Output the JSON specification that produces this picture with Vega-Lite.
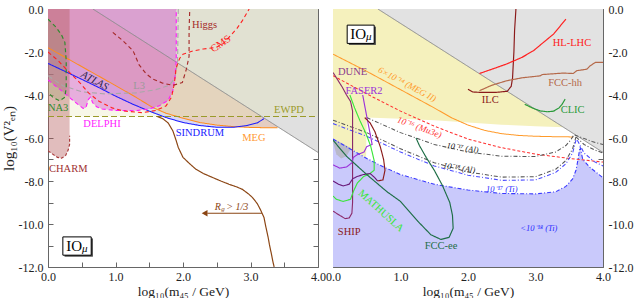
{
"$schema":"https://vega.github.io/schema/vega-lite/v6.json",
"padding":{"left":0,"top":2,"right":1,"bottom":0},
"config":{"font":"Liberation Serif","view":{"stroke":"#666666","strokeWidth":1},
"axis":{"labelFont":"Liberation Serif","labelFontSize":12,"labelColor":"#222222","titleFont":"Liberation Serif","titleFontSize":15,"titleFontWeight":"normal","titleColor":"#222222","domain":false,"tickColor":"#666666","tickSize":-5,"grid":false,"labelFlush":false,"labelOverlap":false},
"axisX":{"labelPadding":9,"titlePadding":2,"titleFontSize":13.5},
"axisY":{"labelPadding":10,"titlePadding":2},
"text":{"font":"Liberation Serif","baseline":"middle","align":"center"}},
"datasets":{
"Llines":[
{"s":"diag","x":0.665,"y":0},{"s":"diag","x":4,"y":-6.67},
{"s":"MEG","x":0,"y":-1.8},{"s":"MEG","x":0.5,"y":-2.68},{"s":"MEG","x":1.0,"y":-3.56},{"s":"MEG","x":1.3,"y":-4.1},{"s":"MEG","x":1.55,"y":-4.58},{"s":"MEG","x":1.75,"y":-4.85},{"s":"MEG","x":2.0,"y":-5.08},{"s":"MEG","x":2.25,"y":-5.28},{"s":"MEG","x":2.5,"y":-5.4},{"s":"MEG","x":2.75,"y":-5.47},{"s":"MEG","x":3.0,"y":-5.51},{"s":"MEG","x":3.2,"y":-5.52},{"s":"MEG","x":3.4,"y":-5.52},
{"s":"SINDRUM","x":0,"y":-2.53},{"s":"SINDRUM","x":0.25,"y":-2.9},{"s":"SINDRUM","x":0.5,"y":-3.27},{"s":"SINDRUM","x":0.75,"y":-3.65},{"s":"SINDRUM","x":1.0,"y":-4.05},{"s":"SINDRUM","x":1.25,"y":-4.42},{"s":"SINDRUM","x":1.5,"y":-4.75},{"s":"SINDRUM","x":1.75,"y":-5.05},{"s":"SINDRUM","x":2.0,"y":-5.28},{"s":"SINDRUM","x":2.25,"y":-5.42},{"s":"SINDRUM","x":2.5,"y":-5.5},{"s":"SINDRUM","x":2.75,"y":-5.5},{"s":"SINDRUM","x":2.95,"y":-5.42},{"s":"SINDRUM","x":3.1,"y":-5.3},{"s":"SINDRUM","x":3.2,"y":-5.1},
{"s":"EWPD","x":0,"y":-5},{"s":"EWPD","x":4,"y":-5},
{"s":"L3","x":0,"y":-3.1},{"s":"L3","x":0.22,"y":-3.57},{"s":"L3","x":0.5,"y":-3.85},{"s":"L3","x":0.85,"y":-3.95},{"s":"L3","x":1.3,"y":-3.9},{"s":"L3","x":1.6,"y":-3.75},{"s":"L3","x":1.8,"y":-3.55},{"s":"L3","x":1.88,"y":-3.2},{"s":"L3","x":1.92,"y":-2.5},{"s":"L3","x":1.93,"y":0},
{"s":"DELPHI","x":0,"y":-3.3},{"s":"DELPHI","x":0.1,"y":-3.55},{"s":"DELPHI","x":0.22,"y":-3.85},{"s":"DELPHI","x":0.35,"y":-4.2},{"s":"DELPHI","x":0.45,"y":-4.45},{"s":"DELPHI","x":0.52,"y":-4.62},{"s":"DELPHI","x":0.56,"y":-4.6},{"s":"DELPHI","x":0.6,"y":-4.2},{"s":"DELPHI","x":0.63,"y":-4.1},{"s":"DELPHI","x":0.66,"y":-4.35},{"s":"DELPHI","x":0.72,"y":-4.55},{"s":"DELPHI","x":0.8,"y":-4.65},{"s":"DELPHI","x":1.0,"y":-4.72},{"s":"DELPHI","x":1.3,"y":-4.73},{"s":"DELPHI","x":1.5,"y":-4.65},{"s":"DELPHI","x":1.65,"y":-4.5},{"s":"DELPHI","x":1.78,"y":-4.25},{"s":"DELPHI","x":1.85,"y":-3.8},{"s":"DELPHI","x":1.88,"y":-3.2},{"s":"DELPHI","x":1.9,"y":-2.4},{"s":"DELPHI","x":1.9,"y":0},
{"s":"CMS","x":0,"y":-2.0},{"s":"CMS","x":0.15,"y":-2.4},{"s":"CMS","x":0.27,"y":-2.8},{"s":"CMS","x":0.47,"y":-3.42},{"s":"CMS","x":0.6,"y":-3.9},{"s":"CMS","x":0.76,"y":-4.3},{"s":"CMS","x":0.95,"y":-4.6},{"s":"CMS","x":1.11,"y":-4.74},{"s":"CMS","x":1.4,"y":-4.82},{"s":"CMS","x":1.6,"y":-4.72},{"s":"CMS","x":1.75,"y":-4.5},{"s":"CMS","x":1.83,"y":-4.1},{"s":"CMS","x":1.87,"y":-3.5},{"s":"CMS","x":1.9,"y":-2.72},{"s":"CMS","x":1.95,"y":-2.3},{"s":"CMS","x":2.0,"y":-2.1},{"s":"CMS","x":2.15,"y":-1.95},{"s":"CMS","x":2.3,"y":-1.86},{"s":"CMS","x":2.49,"y":-1.79},{"s":"CMS","x":2.6,"y":-1.6},{"s":"CMS","x":2.68,"y":-1.32},{"s":"CMS","x":2.8,"y":-0.9},{"s":"CMS","x":2.88,"y":-0.54},{"s":"CMS","x":2.98,"y":0},
{"s":"Higgs","x":0.96,"y":-1.09},{"s":"Higgs","x":1.1,"y":-1.45},{"s":"Higgs","x":1.26,"y":-1.94},{"s":"Higgs","x":1.35,"y":-2.6},{"s":"Higgs","x":1.45,"y":-3.0},{"s":"Higgs","x":1.55,"y":-3.25},{"s":"Higgs","x":1.7,"y":-3.45},{"s":"Higgs","x":1.85,"y":-3.55},{"s":"Higgs","x":1.99,"y":-3.42},{"s":"Higgs","x":2.05,"y":-2.8},{"s":"Higgs","x":2.09,"y":-2.2},{"s":"Higgs","x":2.09,"y":-1.0},{"s":"Higgs","x":2.1,"y":0},
{"s":"CHARM","x":0,"y":-6.6},{"s":"CHARM","x":0.07,"y":-6.75},{"s":"CHARM","x":0.14,"y":-6.9},{"s":"CHARM","x":0.2,"y":-6.94},{"s":"CHARM","x":0.26,"y":-6.82},{"s":"CHARM","x":0.3,"y":-6.55},{"s":"CHARM","x":0.32,"y":-6.3},{"s":"CHARM","x":0.32,"y":-5.9},
{"s":"NA3","x":0,"y":-0.47},{"s":"NA3","x":0.12,"y":-0.85},{"s":"NA3","x":0.2,"y":-1.2},{"s":"NA3","x":0.25,"y":-1.55},{"s":"NA3","x":0.27,"y":-2.4},{"s":"NA3","x":0.27,"y":-3.65},{"s":"NA3","x":0.25,"y":-4.1},{"s":"NA3","x":0.17,"y":-4.27},{"s":"NA3","x":0.07,"y":-4.1},{"s":"NA3","x":0,"y":-3.88},
{"s":"Rg","x":1.62,"y":-5.0},{"s":"Rg","x":1.7,"y":-5.1},{"s":"Rg","x":1.78,"y":-5.3},{"s":"Rg","x":1.85,"y":-5.67},{"s":"Rg","x":1.9,"y":-6.13},{"s":"Rg","x":1.93,"y":-6.44},{"s":"Rg","x":2.0,"y":-6.9},{"s":"Rg","x":2.1,"y":-7.2},{"s":"Rg","x":2.19,"y":-7.45},{"s":"Rg","x":2.3,"y":-7.65},{"s":"Rg","x":2.44,"y":-7.84},{"s":"Rg","x":2.56,"y":-8.0},{"s":"Rg","x":2.68,"y":-8.15},{"s":"Rg","x":2.8,"y":-8.28},{"s":"Rg","x":2.88,"y":-8.39},{"s":"Rg","x":2.97,"y":-8.6},{"s":"Rg","x":3.03,"y":-8.77},{"s":"Rg","x":3.1,"y":-9.05},{"s":"Rg","x":3.15,"y":-9.35},{"s":"Rg","x":3.2,"y":-9.7},{"s":"Rg","x":3.23,"y":-10.17},{"s":"Rg","x":3.26,"y":-10.6},{"s":"Rg","x":3.28,"y":-10.95},{"s":"Rg","x":3.31,"y":-11.4},{"s":"Rg","x":3.33,"y":-11.72},{"s":"Rg","x":3.35,"y":-12},
{"s":"arrow","x":3.17,"y":-9.5},{"s":"arrow","x":2.36,"y":-9.5}
],
"LNA3":[{"x":0,"lo":-3.88,"hi":-0.47},{"x":0.07,"lo":-4.1,"hi":-0.7},{"x":0.12,"lo":-4.2,"hi":-0.85},{"x":0.17,"lo":-4.27,"hi":-1.05},{"x":0.2,"lo":-4.25,"hi":-1.2},{"x":0.25,"lo":-4.1,"hi":-1.55},{"x":0.27,"lo":-3.65,"hi":-2.4}],
"Ltext":[{"t":"Higgs","x":2.32,"y":-0.73},{"t":"L3","x":1.35,"y":-3.57},{"t":"NA3","x":0.15,"y":-4.61},{"t":"DELPHI","x":0.8,"y":-5.33},{"t":"SINDRUM","x":2.25,"y":-5.78},{"t":"MEG","x":3.05,"y":-5.98},{"t":"EWPD","x":3.57,"y":-4.7},{"t":"CHARM","x":0.3,"y":-7.45}],
"Rlines":[
{"s":"diag","x":0.665,"y":0},{"s":"diag","x":4,"y":-6.67},
{"s":"MEGII","x":0,"y":-2.1},{"s":"MEGII","x":0.5,"y":-2.9},{"s":"MEGII","x":1.0,"y":-3.75},{"s":"MEGII","x":1.5,"y":-4.6},{"s":"MEGII","x":1.75,"y":-5.05},{"s":"MEGII","x":2.0,"y":-5.4},{"s":"MEGII","x":2.25,"y":-5.65},{"s":"MEGII","x":2.5,"y":-5.8},{"s":"MEGII","x":2.75,"y":-5.88},{"s":"MEGII","x":3.0,"y":-5.92},{"s":"MEGII","x":3.3,"y":-5.94},{"s":"MEGII","x":3.56,"y":-5.95},
{"s":"Mu3e","x":0,"y":-3.1},{"s":"Mu3e","x":0.5,"y":-3.95},{"s":"Mu3e","x":1.0,"y":-4.75},{"s":"Mu3e","x":1.5,"y":-5.45},{"s":"Mu3e","x":2.0,"y":-6.05},{"s":"Mu3e","x":2.5,"y":-6.45},{"s":"Mu3e","x":3.0,"y":-6.75},{"s":"Mu3e","x":3.5,"y":-6.95},{"s":"Mu3e","x":4.0,"y":-7.12},
{"s":"Al17","x":0.5,"y":-5.05},{"s":"Al17","x":0.75,"y":-5.4},{"s":"Al17","x":1.0,"y":-5.75},{"s":"Al17","x":1.5,"y":-6.3},{"s":"Al17","x":2.0,"y":-6.65},{"s":"Al17","x":2.5,"y":-6.85},{"s":"Al17","x":3.0,"y":-6.86},{"s":"Al17","x":3.3,"y":-6.65},{"s":"Al17","x":3.45,"y":-6.35},{"s":"Al17","x":3.52,"y":-6.1},{"s":"Al17","x":3.56,"y":-5.9},
{"s":"Al17r","x":3.58,"y":-5.86},{"s":"Al17r","x":3.7,"y":-6.0},{"s":"Al17r","x":3.85,"y":-6.18},{"s":"Al17r","x":4,"y":-6.3},
{"s":"Al18","x":0,"y":-5.17},{"s":"Al18","x":0.5,"y":-5.75},{"s":"Al18","x":1.0,"y":-6.5},{"s":"Al18","x":1.5,"y":-7.15},{"s":"Al18","x":2.0,"y":-7.58},{"s":"Al18","x":2.5,"y":-7.82},{"s":"Al18","x":3.0,"y":-7.8},{"s":"Al18","x":3.3,"y":-7.45},{"s":"Al18","x":3.45,"y":-7.05},{"s":"Al18","x":3.55,"y":-6.5},{"s":"Al18","x":3.6,"y":-5.95},
{"s":"Al18r","x":3.6,"y":-5.95},{"s":"Al18r","x":3.72,"y":-6.3},{"s":"Al18r","x":3.87,"y":-6.55},{"s":"Al18r","x":4,"y":-6.7},
{"s":"TiA","x":0,"y":-5.33},{"s":"TiA","x":0.5,"y":-5.92},{"s":"TiA","x":1.0,"y":-6.65},{"s":"TiA","x":1.5,"y":-7.3},{"s":"TiA","x":2.0,"y":-7.73},{"s":"TiA","x":2.5,"y":-7.97},{"s":"TiA","x":3.0,"y":-7.95},{"s":"TiA","x":3.3,"y":-7.6},{"s":"TiA","x":3.45,"y":-7.2},{"s":"TiA","x":3.55,"y":-6.7},{"s":"TiA","x":3.6,"y":-6.1},
{"s":"TiAr","x":3.62,"y":-6.1},{"s":"TiAr","x":3.72,"y":-6.7},{"s":"TiAr","x":3.87,"y":-7.1},{"s":"TiAr","x":4,"y":-7.3},
{"s":"Ti17","x":0,"y":-6.05},{"s":"Ti17","x":0.25,"y":-6.5},{"s":"Ti17","x":0.5,"y":-6.95},{"s":"Ti17","x":0.75,"y":-7.35},{"s":"Ti17","x":1.0,"y":-7.7},{"s":"Ti17","x":1.5,"y":-8.15},{"s":"Ti17","x":2.0,"y":-8.42},{"s":"Ti17","x":2.5,"y":-8.58},{"s":"Ti17","x":3.0,"y":-8.6},{"s":"Ti17","x":3.3,"y":-8.5},{"s":"Ti17","x":3.45,"y":-8.25},{"s":"Ti17","x":3.55,"y":-7.9},{"s":"Ti17","x":3.6,"y":-7.5},{"s":"Ti17","x":3.63,"y":-7.0},{"s":"Ti17","x":3.66,"y":-6.4},{"s":"Ti17","x":3.7,"y":-7.0},{"s":"Ti17","x":3.8,"y":-7.35},{"s":"Ti17","x":3.9,"y":-7.6},{"s":"Ti17","x":4,"y":-7.85},
{"s":"DUNE","x":0,"y":-2.95},{"s":"DUNE","x":0.07,"y":-3.3},{"s":"DUNE","x":0.14,"y":-3.65},{"s":"DUNE","x":0.2,"y":-4.0},{"s":"DUNE","x":0.26,"y":-4.3},{"s":"DUNE","x":0.29,"y":-4.74},{"s":"DUNE","x":0.29,"y":-6.0},{"s":"DUNE","x":0.29,"y":-7.5},{"s":"DUNE","x":0.29,"y":-9.0},{"s":"DUNE","x":0.28,"y":-9.5},{"s":"DUNE","x":0.24,"y":-9.72},{"s":"DUNE","x":0.18,"y":-9.75},{"s":"DUNE","x":0.1,"y":-9.6},{"s":"DUNE","x":0,"y":-9.4},
{"s":"FASER2","x":0.44,"y":-4.0},{"s":"FASER2","x":0.5,"y":-5.0},{"s":"FASER2","x":0.55,"y":-5.8},{"s":"FASER2","x":0.58,"y":-6.3},{"s":"FASER2","x":0.5,"y":-6.4},{"s":"FASER2","x":0.46,"y":-6.65},{"s":"FASER2","x":0.36,"y":-6.78},{"s":"FASER2","x":0.3,"y":-6.9},{"s":"FASER2","x":0.28,"y":-7.15},{"s":"FASER2","x":0.2,"y":-7.35},{"s":"FASER2","x":0.1,"y":-7.4},{"s":"FASER2","x":0,"y":-7.25},
{"s":"MATHUSLA","x":0.25,"y":-4.0},{"s":"MATHUSLA","x":0.32,"y":-4.6},{"s":"MATHUSLA","x":0.4,"y":-5.2},{"s":"MATHUSLA","x":0.49,"y":-5.8},{"s":"MATHUSLA","x":0.56,"y":-6.4},{"s":"MATHUSLA","x":0.61,"y":-7.05},{"s":"MATHUSLA","x":0.61,"y":-7.5},{"s":"MATHUSLA","x":0.55,"y":-7.65},{"s":"MATHUSLA","x":0.45,"y":-7.8},{"s":"MATHUSLA","x":0.36,"y":-8.1},{"s":"MATHUSLA","x":0.3,"y":-8.5},{"s":"MATHUSLA","x":0.26,"y":-8.85},{"s":"MATHUSLA","x":0.15,"y":-8.95},{"s":"MATHUSLA","x":0.05,"y":-8.85},{"s":"MATHUSLA","x":0,"y":-8.7},
{"s":"dp","x":0,"y":-8.0},{"s":"dp","x":0.08,"y":-8.15},{"s":"dp","x":0.15,"y":-8.23},{"s":"dp","x":0.24,"y":-8.15},{"s":"dp","x":0.29,"y":-7.9},{"s":"dp","x":0.35,"y":-7.8},{"s":"dp","x":0.45,"y":-7.7},{"s":"dp","x":0.55,"y":-7.65},{"s":"dp","x":0.62,"y":-7.85},{"s":"dp","x":0.66,"y":-8.0},
{"s":"dr","x":0.66,"y":-8.0},{"s":"dr","x":0.74,"y":-7.95},{"s":"dr","x":0.77,"y":-7.5},{"s":"dr","x":0.75,"y":-7.0},{"s":"dr","x":0.7,"y":-6.4},{"s":"dr","x":0.62,"y":-5.7},{"s":"dr","x":0.55,"y":-5.3},{"s":"dr","x":0.47,"y":-5.05},
{"s":"FCCee","x":0,"y":-6.1},{"s":"FCCee","x":0.2,"y":-6.85},{"s":"FCCee","x":0.5,"y":-7.7},{"s":"FCCee","x":0.8,"y":-8.5},{"s":"FCCee","x":1.0,"y":-8.95},{"s":"FCCee","x":1.25,"y":-9.85},{"s":"FCCee","x":1.45,"y":-10.5},{"s":"FCCee","x":1.6,"y":-10.72},{"s":"FCCee","x":1.72,"y":-10.62},{"s":"FCCee","x":1.78,"y":-10.2},{"s":"FCCee","x":1.77,"y":-9.6},{"s":"FCCee","x":1.73,"y":-9.0},{"s":"FCCee","x":1.62,"y":-8.2},{"s":"FCCee","x":1.5,"y":-7.5},{"s":"FCCee","x":1.38,"y":-6.9},{"s":"FCCee","x":1.28,"y":-6.35},{"s":"FCCee","x":1.23,"y":-6.0},
{"s":"ILC","x":2.0,"y":-3.73},{"s":"ILC","x":2.07,"y":-3.86},{"s":"ILC","x":2.2,"y":-3.88},{"s":"ILC","x":2.4,"y":-3.88},{"s":"ILC","x":2.58,"y":-3.83},{"s":"ILC","x":2.64,"y":-3.6},{"s":"ILC","x":2.66,"y":-3.2},{"s":"ILC","x":2.68,"y":-2.0},{"s":"ILC","x":2.69,"y":-1.0},{"s":"ILC","x":2.71,"y":0},
{"s":"HLLHC","x":2.17,"y":-3.0},{"s":"HLLHC","x":2.4,"y":-2.75},{"s":"HLLHC","x":2.57,"y":-2.56},{"s":"HLLHC","x":2.8,"y":-2.25},{"s":"HLLHC","x":2.97,"y":-1.94},{"s":"HLLHC","x":3.1,"y":-1.6},{"s":"HLLHC","x":3.27,"y":-1.16},{"s":"HLLHC","x":3.45,"y":-0.47},
{"s":"FCChh","x":2.17,"y":-3.8},{"s":"FCChh","x":2.35,"y":-3.55},{"s":"FCChh","x":2.57,"y":-3.34},{"s":"FCChh","x":2.8,"y":-3.2},{"s":"FCChh","x":3.07,"y":-3.11},{"s":"FCChh","x":3.1,"y":-3.05},{"s":"FCChh","x":3.41,"y":-2.98},{"s":"FCChh","x":3.56,"y":-3.0},{"s":"FCChh","x":3.61,"y":-2.87},{"s":"FCChh","x":3.76,"y":-2.8},{"s":"FCChh","x":3.81,"y":-2.64},{"s":"FCChh","x":3.89,"y":-2.48},{"s":"FCChh","x":4,"y":-2.48},
{"s":"CLIC","x":2.84,"y":-4.43},{"s":"CLIC","x":2.95,"y":-4.6},{"s":"CLIC","x":3.07,"y":-4.74},{"s":"CLIC","x":3.18,"y":-4.78},{"s":"CLIC","x":3.27,"y":-4.75},{"s":"CLIC","x":3.35,"y":-4.6},{"s":"CLIC","x":3.39,"y":-4.45},{"s":"CLIC","x":3.44,"y":-4.19}
],
"Ryel":[{"x":0,"lo":-6.05},{"x":0.25,"lo":-6.5},{"x":0.49,"lo":-6.93},{"x":0.5,"lo":-5.05},{"x":1.0,"lo":-5.1},{"x":1.5,"lo":-5.18},{"x":2.0,"lo":-5.28},{"x":2.5,"lo":-5.38},{"x":3.0,"lo":-5.45},{"x":3.42,"lo":-5.5}],
"Rpatch":[{"x":0,"lo":-6.2,"hi":-6.05},{"x":0.05,"lo":-6.75,"hi":-6.12},{"x":0.12,"lo":-6.95,"hi":-6.22},{"x":0.2,"lo":-6.85,"hi":-6.36},{"x":0.26,"lo":-6.52,"hi":-6.47}],
"Rtext":[{"t":"DUNE","x":0.29,"y":-2.95},{"t":"FASER2","x":0.46,"y":-3.8},{"t":"SHIP","x":0.24,"y":-10.36},{"t":"FCC-ee","x":1.6,"y":-11.02},{"t":"ILC","x":2.33,"y":-4.24},{"t":"HL-LHC","x":3.54,"y":-1.58},{"t":"FCC-hh","x":3.44,"y":-3.42},{"t":"CLIC","x":3.55,"y":-4.7}]
},
"spacing":15,
"bounds":"flush",
"resolve":{"scale":{"color":"independent","strokeDash":"independent","strokeWidth":"independent"}},
"hconcat":[
{"width":270,"height":258,
"resolve":{"axis":{"x":"independent","y":"independent"},"scale":{"color":"independent","strokeDash":"independent","strokeWidth":"independent"}},
"layer":[
{"data":{"name":"Llines"},"transform":[{"filter":"datum.s == 'SINDRUM'"}],"mark":{"type":"area","color":"#d8d8f6","clip":true},
"encoding":{"x":{"field":"x","type":"quantitative","scale":{"domain":[0,4],"nice":false,"zero":false},"axis":{"orient":"bottom","values":[0,0.5,1,1.5,2,2.5,3,3.5,4],"labelExpr":"datum.value % 1 == 0 ? format(datum.value, '.1f') : ''","title":"log₁₀(m₄₅ / GeV)"}},
"y":{"field":"y","type":"quantitative","scale":{"domain":[-12,0],"nice":false,"zero":false},"axis":{"orient":"left","values":[-12,-11,-10,-9,-8,-7,-6,-5,-4,-3,-2,-1,0],"labelExpr":"datum.value % 2 == 0 ? (datum.value < 0 ? '-' + format(-datum.value, '.1f') : '0.0') : ''","title":"log₁₀(V²ₑₙ)"}},"y2":{"datum":0}}},
{"data":{"name":"Llines"},"transform":[{"filter":"datum.s == 'MEG'"}],"mark":{"type":"area","color":"#e4cdc2","clip":true},
"encoding":{"x":{"field":"x","type":"quantitative","axis":{"orient":"top","values":[0,0.5,1,1.5,2,2.5,3,3.5,4],"labels":false,"title":null}},"y":{"field":"y","type":"quantitative","axis":{"orient":"right","values":[-12,-11,-10,-9,-8,-7,-6,-5,-4,-3,-2,-1,0],"labels":false,"title":null}},"y2":{"datum":0}}},
{"data":{"name":"Llines"},"transform":[{"filter":"datum.s == 'diag'"}],"mark":{"type":"area","color":"#e0e0e0","clip":true},
"encoding":{"x":{"field":"x","type":"quantitative","axis":null},"y":{"field":"y","type":"quantitative","axis":null},"y2":{"datum":0}}},
{"data":{"name":"Llines"},"transform":[{"filter":"datum.s == 'EWPD'"}],"mark":{"type":"area","color":"#e6e6b4","opacity":0.3,"clip":true},
"encoding":{"x":{"field":"x","type":"quantitative","axis":null},"y":{"field":"y","type":"quantitative","axis":null},"y2":{"datum":0}}},
{"data":{"name":"Llines"},"transform":[{"filter":"datum.s == 'DELPHI'"}],"mark":{"type":"area","color":"#d040cc","opacity":0.4,"clip":true},
"encoding":{"x":{"field":"x","type":"quantitative","axis":null},"y":{"field":"y","type":"quantitative","axis":null},"y2":{"datum":0}}},
{"data":{"name":"Llines"},"transform":[{"filter":"datum.s == 'CHARM'"}],"mark":{"type":"area","color":"#b45a5a","opacity":0.4,"clip":true},
"encoding":{"x":{"field":"x","type":"quantitative","axis":null},"y":{"field":"y","type":"quantitative","axis":null},"y2":{"datum":0}}},
{"data":{"name":"LNA3"},"mark":{"type":"area","color":"#7f9a50","opacity":0.2,"clip":true},
"encoding":{"x":{"field":"x","type":"quantitative","axis":null},"y":{"field":"lo","type":"quantitative","axis":null},"y2":{"field":"hi"}}},
{"data":{"name":"Llines"},"mark":{"type":"line","clip":true},
"encoding":{"x":{"field":"x","type":"quantitative","axis":null},"y":{"field":"y","type":"quantitative","axis":null},
"color":{"field":"s","type":"nominal","legend":null,"scale":{"domain":["diag","MEG","SINDRUM","EWPD","L3","DELPHI","CMS","Higgs","CHARM","NA3","Rg","arrow"],"range":["#8c8c8c","#ff8c1a","#1a1aff","#9a9a2a","#a8a8a8","#ff1aff","#ff2020","#a52a2a","#a83a3a","#2e8b2e","#8b4513","#8b4513"]}},
"strokeDash":{"field":"s","type":"nominal","legend":null,"scale":{"domain":["diag","MEG","SINDRUM","EWPD","L3","DELPHI","CMS","Higgs","CHARM","NA3","Rg","arrow"],"range":[[1,0],[1,0],[1,0],[6,3],[5,3],[4,3],[4,3],[4,3],[3,2],[4,3],[1,0],[1,0]]}},
"strokeWidth":{"field":"s","type":"nominal","legend":null,"scale":{"domain":["diag","MEG","SINDRUM","EWPD","L3","DELPHI","CMS","Higgs","CHARM","NA3","Rg","arrow"],"range":[1,1.2,1.5,1.3,1.5,1.3,1.2,1.2,1,1.3,1.2,1.5]}},
"order":{"value":null}}},
{"data":{"values":[{"x":2.32,"y":-9.5}]},"mark":{"type":"point","shape":"triangle-left","filled":true,"color":"#8b4513","size":45,"opacity":1},
"encoding":{"x":{"field":"x","type":"quantitative","axis":null},"y":{"field":"y","type":"quantitative","axis":null}}},
{"data":{"name":"Ltext"},"mark":{"type":"text","fontSize":10.5},
"encoding":{"x":{"field":"x","type":"quantitative","axis":null},"y":{"field":"y","type":"quantitative","axis":null},"text":{"field":"t"},
"color":{"field":"t","type":"nominal","legend":null,"scale":{"domain":["Higgs","L3","NA3","DELPHI","SINDRUM","MEG","EWPD","CHARM"],"range":["#a52a2a","#9a9a9a","#2e8b2e","#ff22ff","#2222ff","#ff9933","#9a9a2a","#a03030"]}}}},
{"data":{"values":[{"t":"CMS","x":2.56,"y":-1.63}]},"mark":{"type":"text","fontSize":10.5,"angle":325,"color":"#ff2020"},
"encoding":{"x":{"field":"x","type":"quantitative","axis":null},"y":{"field":"y","type":"quantitative","axis":null},"text":{"field":"t"}}},
{"data":{"values":[{"t":"ATLAS","x":0.69,"y":-3.34}]},"mark":{"type":"text","fontSize":10.5,"angle":28,"color":"#2a1f4a","fontStyle":"italic"},
"encoding":{"x":{"field":"x","type":"quantitative","axis":null},"y":{"field":"y","type":"quantitative","axis":null},"text":{"field":"t"}}},
{"data":{"values":[{"t":"R","x":2.47,"y":-9.2},{"t":"> 1/3","x":2.64,"y":-9.2}]},"mark":{"type":"text","fontSize":10,"align":"left","color":"#8b4513","fontStyle":"italic"},
"encoding":{"x":{"field":"x","type":"quantitative","axis":null},"y":{"field":"y","type":"quantitative","axis":null},"text":{"field":"t"}}},
{"data":{"values":[{"t":"g","x":2.565,"y":-9.32}]},"mark":{"type":"text","fontSize":7,"align":"left","color":"#8b4513","fontStyle":"italic"},
"encoding":{"x":{"field":"x","type":"quantitative","axis":null},"y":{"field":"y","type":"quantitative","axis":null},"text":{"field":"t"}}},
{"data":{"values":[{"x":0.245,"x2":0.665,"y":-10.67,"y2":-11.52}]},"mark":{"type":"rect","color":"#444444"},
"encoding":{"x":{"field":"x","type":"quantitative","axis":null},"x2":{"field":"x2"},"y":{"field":"y","type":"quantitative","axis":null},"y2":{"field":"y2"}}},
{"data":{"values":[{"x":0.22,"x2":0.64,"y":-10.6,"y2":-11.45}]},"mark":{"type":"rect","fill":"#ffffff","stroke":"#000000","strokeWidth":1},
"encoding":{"x":{"field":"x","type":"quantitative","axis":null},"x2":{"field":"x2"},"y":{"field":"y","type":"quantitative","axis":null},"y2":{"field":"y2"}}},
{"data":{"values":[{"t":"IO","x":0.27,"y":-11.02}]},"mark":{"type":"text","fontSize":15,"align":"left","color":"#000000"},
"encoding":{"x":{"field":"x","type":"quantitative","axis":null},"y":{"field":"y","type":"quantitative","axis":null},"text":{"field":"t"}}},
{"data":{"values":[{"t":"μ","x":0.505,"y":-11.15}]},"mark":{"type":"text","fontSize":11,"align":"left","color":"#000000","fontStyle":"italic"},
"encoding":{"x":{"field":"x","type":"quantitative","axis":null},"y":{"field":"y","type":"quantitative","axis":null},"text":{"field":"t"}}}
]},
{"width":270,"height":258,
"resolve":{"axis":{"x":"independent","y":"independent"},"scale":{"color":"independent","strokeDash":"independent","strokeWidth":"independent"}},
"layer":[
{"data":{"name":"Rlines"},"transform":[{"filter":"datum.s == 'Ti17'"}],"mark":{"type":"area","color":"#c9c9fb","clip":true},
"encoding":{"x":{"field":"x","type":"quantitative","scale":{"domain":[0,4],"nice":false,"zero":false},"axis":{"orient":"bottom","values":[0,0.5,1,1.5,2,2.5,3,3.5,4],"labelExpr":"datum.value % 1 == 0 ? format(datum.value, '.1f') : ''","title":"log₁₀(m₄₅ / GeV)"}},
"y":{"field":"y","type":"quantitative","scale":{"domain":[-12,0],"nice":false,"zero":false},"axis":{"orient":"left","values":[-12,-11,-10,-9,-8,-7,-6,-5,-4,-3,-2,-1,0],"labels":false,"title":null}},"y2":{"datum":-12}}},
{"data":{"name":"Ryel"},"mark":{"type":"area","color":"#f5f1bd","clip":true},
"encoding":{"x":{"field":"x","type":"quantitative","axis":{"orient":"top","values":[0,0.5,1,1.5,2,2.5,3,3.5,4],"labels":false,"title":null}},"y":{"field":"lo","type":"quantitative","axis":{"orient":"right","values":[-12,-11,-10,-9,-8,-7,-6,-5,-4,-3,-2,-1,0],"labelExpr":"datum.value % 2 == 0 ? (datum.value < 0 ? '-' + format(-datum.value, '.1f') : '0.0') : ''","title":null}},"y2":{"datum":0}}},
{"data":{"name":"Rlines"},"transform":[{"filter":"datum.s == 'diag'"}],"mark":{"type":"area","color":"#e2e2e2","clip":true},
"encoding":{"x":{"field":"x","type":"quantitative","axis":null},"y":{"field":"y","type":"quantitative","axis":null},"y2":{"datum":0}}},
{"data":{"name":"Rpatch"},"mark":{"type":"area","color":"#b9b9c9","clip":true},
"encoding":{"x":{"field":"x","type":"quantitative","axis":null},"y":{"field":"lo","type":"quantitative","axis":null},"y2":{"field":"hi"}}},
{"data":{"name":"Rlines"},"mark":{"type":"line","clip":true},
"encoding":{"x":{"field":"x","type":"quantitative","axis":null},"y":{"field":"y","type":"quantitative","axis":null},
"color":{"field":"s","type":"nominal","legend":null,"scale":{"domain":["diag","MEGII","Mu3e","Al17","Al17r","Al18","Al18r","TiA","TiAr","Ti17","DUNE","FASER2","MATHUSLA","dp","dr","FCCee","ILC","HLLHC","FCChh","CLIC"],"range":["#8c8c8c","#ff9a2a","#ff3030","#555555","#555555","#555555","#555555","#4a4aff","#4a4aff","#3a3aff","#8b2a6a","#9b30d9","#39e639","#6a1b7a","#8b1a1a","#1e6e46","#8b1a1a","#ff2020","#b5694a","#2a9a3a"]}},
"strokeDash":{"field":"s","type":"nominal","legend":null,"scale":{"domain":["diag","MEGII","Mu3e","Al17","Al17r","Al18","Al18r","TiA","TiAr","Ti17","DUNE","FASER2","MATHUSLA","dp","dr","FCCee","ILC","HLLHC","FCChh","CLIC"],"range":[[1,0],[1,0],[3,2],[4,2,1,2],[4,2,1,2],[4,2,1,2],[4,2,1,2],[4,2,1,2],[4,2,1,2],[4,2,1,2],[1,0],[1,0],[1,0],[1,0],[1,0],[1,0],[1,0],[1,0],[1,0],[1,0]]}},
"strokeWidth":{"field":"s","type":"nominal","legend":null,"scale":{"domain":["diag","MEGII","Mu3e","Al17","Al17r","Al18","Al18r","TiA","TiAr","Ti17","DUNE","FASER2","MATHUSLA","dp","dr","FCCee","ILC","HLLHC","FCChh","CLIC"],"range":[1,1.2,1,0.7,0.7,0.7,0.7,0.7,0.7,0.9,1.2,1.2,1.2,1.2,1.2,1.2,1.2,1.2,1.2,1.3]}},
"order":{"value":null}}},
{"data":{"name":"Rtext"},"mark":{"type":"text","fontSize":10.5},
"encoding":{"x":{"field":"x","type":"quantitative","axis":null},"y":{"field":"y","type":"quantitative","axis":null},"text":{"field":"t"},
"color":{"field":"t","type":"nominal","legend":null,"scale":{"domain":["DUNE","FASER2","SHIP","FCC-ee","ILC","HL-LHC","FCC-hh","CLIC"],"range":["#8b3a8b","#9b30d9","#8b1a1a","#1e6e46","#8b1a1a","#ff2020","#b5694a","#2a9a3a"]}}}},
{"data":{"values":[{"t":"MATHUSLA","x":0.71,"y":-9.39}]},"mark":{"type":"text","fontSize":10.5,"angle":42,"color":"#39e639"},
"encoding":{"x":{"field":"x","type":"quantitative","axis":null},"y":{"field":"y","type":"quantitative","axis":null},"text":{"field":"t"}}},
{"data":{"values":[{"t":"6×10⁻¹⁴ (MEG II)","x":1.1,"y":-3.5}]},"mark":{"type":"text","fontSize":9,"angle":28,"color":"#ff9a2a","fontStyle":"italic"},
"encoding":{"x":{"field":"x","type":"quantitative","axis":null},"y":{"field":"y","type":"quantitative","axis":null},"text":{"field":"t"}}},
{"data":{"values":[{"t":"10⁻¹⁶ (Mu3e)","x":1.28,"y":-5.5}]},"mark":{"type":"text","fontSize":9,"angle":20,"color":"#ff3030","fontStyle":"italic"},
"encoding":{"x":{"field":"x","type":"quantitative","axis":null},"y":{"field":"y","type":"quantitative","axis":null},"text":{"field":"t"}}},
{"data":{"values":[{"t":"10⁻¹⁷ (Al)","x":1.92,"y":-6.45},{"t":"10⁻¹⁸ (Al)","x":1.87,"y":-7.38}]},"mark":{"type":"text","fontSize":8.5,"angle":9,"color":"#222222","fontStyle":"italic"},
"encoding":{"x":{"field":"x","type":"quantitative","axis":null},"y":{"field":"y","type":"quantitative","axis":null},"text":{"field":"t"}}},
{"data":{"values":[{"t":"10⁻¹⁷ (Ti)","x":2.5,"y":-8.35},{"t":"<10⁻¹⁸ (Ti)","x":3.05,"y":-10.17}]},"mark":{"type":"text","fontSize":8.5,"color":"#2a2aff","fontStyle":"italic"},
"encoding":{"x":{"field":"x","type":"quantitative","axis":null},"y":{"field":"y","type":"quantitative","axis":null},"text":{"field":"t"}}},
{"data":{"values":[{"x":0.235,"x2":0.635,"y":-0.82,"y2":-1.67}]},"mark":{"type":"rect","color":"#444444"},
"encoding":{"x":{"field":"x","type":"quantitative","axis":null},"x2":{"field":"x2"},"y":{"field":"y","type":"quantitative","axis":null},"y2":{"field":"y2"}}},
{"data":{"values":[{"x":0.21,"x2":0.61,"y":-0.75,"y2":-1.6}]},"mark":{"type":"rect","fill":"#ffffff","stroke":"#000000","strokeWidth":1},
"encoding":{"x":{"field":"x","type":"quantitative","axis":null},"x2":{"field":"x2"},"y":{"field":"y","type":"quantitative","axis":null},"y2":{"field":"y2"}}},
{"data":{"values":[{"t":"IO","x":0.255,"y":-1.17}]},"mark":{"type":"text","fontSize":15,"align":"left","color":"#000000"},
"encoding":{"x":{"field":"x","type":"quantitative","axis":null},"y":{"field":"y","type":"quantitative","axis":null},"text":{"field":"t"}}},
{"data":{"values":[{"t":"μ","x":0.49,"y":-1.3}]},"mark":{"type":"text","fontSize":11,"align":"left","color":"#000000","fontStyle":"italic"},
"encoding":{"x":{"field":"x","type":"quantitative","axis":null},"y":{"field":"y","type":"quantitative","axis":null},"text":{"field":"t"}}}
]}
]
}
